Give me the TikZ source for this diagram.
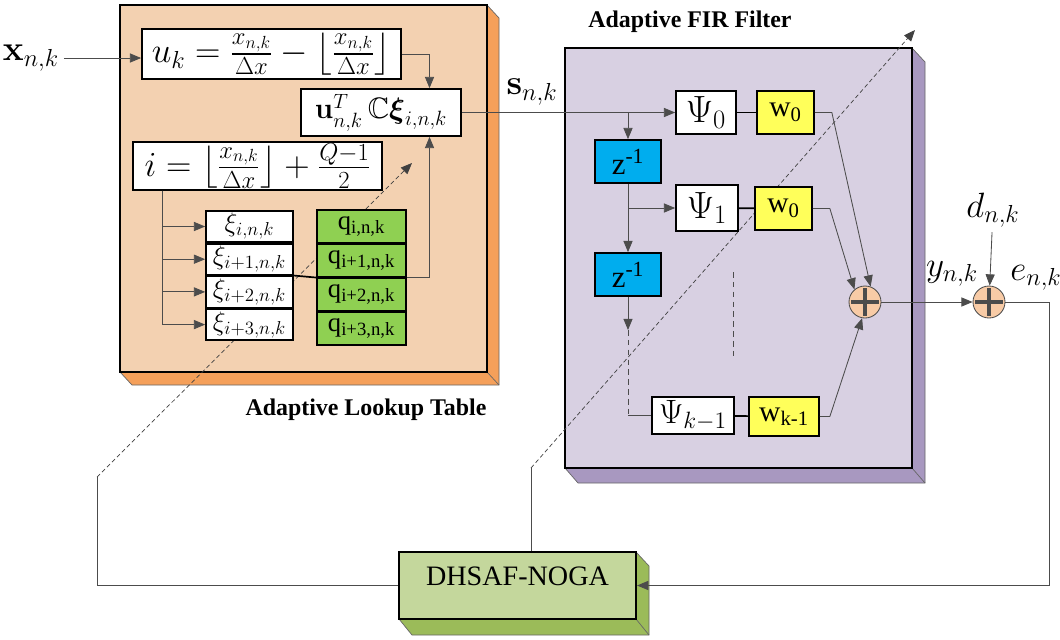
\documentclass[tikz,border=0pt]{standalone}
\usepackage{fix-cm}
\usepackage{amsmath,amssymb}
\usepackage[no-math]{fontspec}
\newfontfamily\tms{Liberation Serif}
\usetikzlibrary{arrows.meta, positioning, calc, fit}
\definecolor{lutfront}{HTML}{F3D1B1}
\definecolor{lutback}{HTML}{F5A05A}
\definecolor{firfront}{HTML}{D8D0E2}
\definecolor{firback}{HTML}{A898C0}
\definecolor{nogafront}{HTML}{C4D79C}
\definecolor{nogaback}{HTML}{9BBB59}
\definecolor{qgreen}{HTML}{8FD052}
\definecolor{wyellow}{HTML}{FFFF5A}
\definecolor{zblue}{HTML}{00ADEE}
\definecolor{sumfill}{HTML}{F8CBA6}
\tikzstyle{lutface} = [rectangle, draw=black, line width=2pt, fill=lutfront, inner sep=0pt]
\tikzstyle{firface} = [rectangle, draw=black, line width=2pt, fill=firfront, inner sep=0pt]
\tikzstyle{nogaface} = [rectangle, draw=black, line width=1.5pt, fill=nogafront, inner sep=0pt, font=\tms\fontsize{20}{24}\selectfont]
\tikzstyle{sideedge} = [draw=black!60, line width=0.5pt]
\tikzstyle{title} = [font=\tms\bfseries\fontsize{17}{20}\selectfont]
\tikzstyle{sig} = [font=\fontsize{25}{30}\selectfont]
\tikzstyle{eqbox} = [rectangle, draw=black, line width=1.2pt, fill=white, inner sep=1pt, font=\fontsize{21}{25}\selectfont]
\tikzstyle{xibox} = [rectangle, draw=black, line width=1.2pt, fill=white, inner sep=0pt, minimum width=2.175cm, minimum height=0.775cm, font=\fontsize{19}{22}\selectfont]
\tikzstyle{qbox} = [rectangle, draw=black, line width=1.2pt, fill=qgreen, inner sep=0pt, minimum width=2.225cm, minimum height=0.8125cm, font=\tms\fontsize{19}{22}\selectfont]
\tikzstyle{psibox} = [rectangle, draw=black, line width=1.2pt, fill=white, inner sep=0pt, font=\fontsize{27}{30}\selectfont]
\tikzstyle{wbox} = [rectangle, draw=black, line width=1.2pt, fill=wyellow, inner sep=0pt, font=\tms\fontsize{21}{24}\selectfont]
\tikzstyle{zbox} = [rectangle, draw=black, line width=1.2pt, fill=zblue, inner sep=0pt, minimum width=1.65cm, minimum height=1.075cm, font=\tms\fontsize{22}{24}\selectfont]
\tikzstyle{sumnode} = [circle, draw=black!70, line width=0.6pt, fill=sumfill, minimum size=0.8cm, inner sep=0pt,
  path picture={\draw[line width=2.2pt] ([yshift=-1.5pt]path picture bounding box.north) -- ([yshift=1.5pt]path picture bounding box.south)
    ([xshift=1.5pt]path picture bounding box.west) -- ([xshift=-1.5pt]path picture bounding box.east);}]
\tikzstyle{conn} = [draw=black!70, line width=0.6pt]
\tikzstyle{arrow} = [conn, -{Triangle[length=8pt,width=6.5pt]}]
\tikzstyle{bus} = [draw=black, line width=1.2pt]
\tikzstyle{adapt} = [draw=black!75, line width=0.5pt, dash pattern=on 3pt off 2pt, -{Triangle[length=8pt,width=6.5pt]}]

\begin{document}
\begin{tikzpicture}[x=0.025cm, y=-0.025cm]
	\useasboundingbox (0,0) rectangle (1060,639);

	\filldraw [fill=lutback, sideedge] (487,5) -- (499,18) -- (499,385) -- (132,385) -- (120,372) -- cycle;
	\draw [sideedge] (487,372) -- (499,385);
	\node (lut) [lutface, fit={(120,5) (487,372)}] {};
	\node (luttitle) [title] at (366,410) {Adaptive Lookup Table};

	\filldraw [fill=firback, sideedge] (912,48) -- (925,62) -- (925,483) -- (578,483) -- (565,468) -- cycle;
	\draw [sideedge] (912,468) -- (925,483);
	\node (fir) [firface, fit={(565,48) (912,468)}] {};
	\node (firtitle) [title] at (690,22) {Adaptive FIR Filter};

	\filldraw [fill=nogaback, sideedge] (636,552) -- (649,566) -- (649,635) -- (412,635) -- (399,619) -- cycle;
	\draw [sideedge] (636,619) -- (649,635);
	\node (noga) [nogaface, fit={(399,552) (636,619)}] {DHSAF-NOGA};

	\coordinate (lb) at (97,477);
	\coordinate (lt) at (412,163);
	\coordinate (rb) at (531,468);
	\coordinate (rt) at (915,30);
	\draw [conn] (noga.west) -| (lb);
	\draw [adapt] (lb) -- (lt);
	\draw [conn] (noga.north -| rb) -- (rb);
	\draw [adapt] (rb) -- (rt);

	\node (xin) [sig] at (31,58) {$\mathbf{x}_{n,k}$};
	\node (uk) [eqbox, minimum width=6.475cm, minimum height=1.25cm, font=\fontsize{25}{30}\selectfont] at (271.5,54) {$u_k = \frac{x_{n,k}}{\Delta x} - \left\lfloor\frac{x_{n,k}}{\Delta x}\right\rfloor$};
	\node (cbox) [eqbox, minimum width=4cm, minimum height=1.175cm] at (381,112.5) {$\mathbf{u}_{n,k}^T\,\mathbb{C}\boldsymbol{\xi}_{i,n,k}$};
	\node (ibox) [eqbox, minimum width=6.225cm, minimum height=1.15cm, font=\fontsize{25}{30}\selectfont] at (257.5,166) {$i = \left\lfloor\frac{x_{n,k}}{\Delta x}\right\rfloor + \frac{Q-1}{2}$};

	\node (xi0) [xibox] at (249.5,226.5) {$\xi_{i,n,k}$};
	\node (xi1) [xibox, below=0pt of xi0] {$\xi_{i+1,n,k}$};
	\node (xi2) [xibox, below=0pt of xi1] {$\xi_{i+2,n,k}$};
	\node (xi3) [xibox, below=0pt of xi2] {$\xi_{i+3,n,k}$};
	\node (q0) [qbox] at (361.5,226.25) {q\textsubscript{i,n,k}};
	\node (q1) [qbox, below=0pt of q0] {q\textsubscript{i+1,n,k}};
	\node (q2) [qbox, below=0pt of q1] {q\textsubscript{i+2,n,k}};
	\node (q3) [qbox, below=0pt of q2] {q\textsubscript{i+3,n,k}};

	\node (slabel) [sig] at (532,92) {$\mathbf{s}_{n,k}$};
	\node (psi0) [psibox, minimum width=1.5cm, minimum height=1.075cm] at (706,112.5) {$\Psi_0$};
	\node (wa) [wbox, minimum width=1.425cm, minimum height=1.075cm] at (785.5,112.5) {w\textsubscript{0}};
	\node (z1) [zbox] at (628,161.5) {z\textsuperscript{-1}};
	\node (psi1) [psibox, minimum width=1.55cm, minimum height=1.15cm] at (707,208) {$\Psi_1$};
	\node (wb) [wbox, minimum width=1.425cm, minimum height=1.075cm] at (783.5,208.5) {w\textsubscript{0}};
	\node (z2) [zbox] at (628,274.5) {z\textsuperscript{-1}};
	\coordinate (zk) at (628,330);
	\node (psik) [psibox, minimum width=2.05cm, minimum height=0.925cm, font=\fontsize{24}{28}\selectfont] at (693,415.5) {$\Psi_{k-1}$};
	\node (wk) [wbox, minimum width=1.75cm, minimum height=0.975cm] at (784,416.5) {w\textsubscript{k-1}};
	\node (sum1) [sumnode] at (865,302) {};
	\node (sum2) [sumnode] at (989,302) {};
	\node (ylabel) [sig] at (952,274) {$y_{n,k}$};
	\node (dlabel) [sig] at (993,210) {$d_{n,k}$};
	\node (elabel) [sig] at (1036,278) {$e_{n,k}$};

	\draw [arrow] (xin.east) -- (xin.east -| uk.west);
	\draw [arrow] (uk.east) -| ($(cbox.north)!0.6!(cbox.north east)$);
	\foreach \r in {0,...,3}
		\draw [arrow] (ibox.south west) ++(30,0) |- (xi\r.west);
	\draw [bus] (xi1.south east) -- (q1.south west);
	\draw [arrow] (q1.south east) -| ($(cbox.south)!0.6!(cbox.south east)$);

	\draw [arrow] (cbox.east) -- (psi0.west);
	\draw [arrow] (cbox.east -| z1.north) -- (z1.north);
	\draw [bus] (psi0) -- (wa);
	\draw [arrow] (z1.south) -- (z2.north);
	\draw [arrow] (z1.south |- psi1.west) -- (psi1.west);
	\draw [bus] (psi1) -- (wb);
	\draw [arrow] (z2.south) -- (zk);
	\draw [conn, dash pattern=on 4pt off 3pt] (zk) -- (zk |- psik.west);
	\draw [conn] (zk |- psik.west) -- (psik.west);
	\draw [bus] (psik) -- (wk);
	\draw [conn, dash pattern=on 4pt off 3pt] (733,272) -- (733,358);
	\draw [arrow] (wa.east) -- ++(17,0) -- (sum1.70);
	\draw [arrow] (wb.east) -- ++(17,0) -- (sum1.130);
	\draw [arrow] (wk.east) -- ++(10,0) -- (sum1.-100);
	\draw [arrow] (sum1) -- (sum2);
	\draw [arrow] (dlabel) -- (sum2);
	\draw [arrow] (sum2.east) -- ++(44,0) |- (noga.east);
\end{tikzpicture}
\end{document}
